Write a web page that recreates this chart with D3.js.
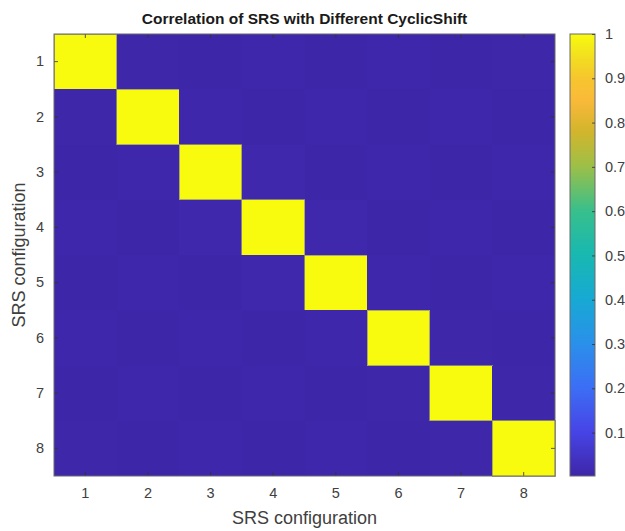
<!DOCTYPE html>
<html>
<head>
<meta charset="utf-8">
<script src="https://cdn.jsdelivr.net/npm/d3@7"></script>
<style>
  html, body { margin: 0; padding: 0; background: #fff; }
  svg { display: block; font-family: "Liberation Sans", Arial, Helvetica, sans-serif; }
</style>
</head>
<body>
<svg id="chart" width="625" height="531"></svg>
<script>
// SRS configuration indices on both axes
const configs = [1, 2, 3, 4, 5, 6, 7, 8];

// Normalised correlation between SRS sequences with different cyclic shifts
const corrRow1 = [1.000, 0.004, 0.003, 0.006, 0.002, 0.005, 0.003, 0.004];
const corrRow2 = [0.004, 1.000, 0.005, 0.003, 0.006, 0.002, 0.005, 0.003];
const corrRow3 = [0.003, 0.005, 1.000, 0.009, 0.003, 0.006, 0.002, 0.005];
const corrRow4 = [0.006, 0.003, 0.009, 1.000, 0.008, 0.003, 0.006, 0.002];
const corrRow5 = [0.002, 0.006, 0.003, 0.008, 1.000, 0.005, 0.003, 0.006];
const corrRow6 = [0.005, 0.002, 0.006, 0.003, 0.005, 1.000, 0.004, 0.003];
const corrRow7 = [0.003, 0.005, 0.002, 0.006, 0.003, 0.004, 1.000, 0.004];
const corrRow8 = [0.004, 0.003, 0.005, 0.002, 0.006, 0.003, 0.004, 1.000];
const corrMatrix = [corrRow1, corrRow2, corrRow3, corrRow4, corrRow5, corrRow6, corrRow7, corrRow8];

// Colour bar tick labels
const cbarTicks = [0.1, 0.2, 0.3, 0.4, 0.5, 0.6, 0.7, 0.8, 0.9, 1];

const titleText = "Correlation of SRS with Different CyclicShift";
const xLabelText = "SRS configuration";
const yLabelText = "SRS configuration";

// Parula-style colormap stops
const parulaStops = [
  [0.00, "#3e26a8"], [0.10, "#4744e6"], [0.20, "#3c6ef5"], [0.30, "#2a90ea"],
  [0.40, "#17a9d4"], [0.50, "#18b8b1"], [0.60, "#38bf8c"], [0.70, "#9cbf48"],
  [0.78, "#d3b52c"], [0.85, "#fbb93a"], [0.90, "#f6c62e"], [0.95, "#f2df1f"],
  [1.00, "#f9fb0e"]
];
const parula = d3.scaleLinear()
  .domain(parulaStops.map(d => d[0]))
  .range(parulaStops.map(d => d[1]))
  .interpolate(d3.interpolateRgb)
  .clamp(true);

const svg = d3.select("#chart");
const plot = { left: 54, top: 34, right: 555, bottom: 476 };
const cbar = { left: 570, right: 595, top: 34, bottom: 476 };
const textColor = "#404040";
const boxColor = "#6b6b6b";

const allVals = corrMatrix.flat();
const vMin = d3.min(allVals), vMax = d3.max(allVals);
const norm = d3.scaleLinear().domain([vMin, vMax]).range([0, 1]);

const x = d3.scaleBand().domain(configs).range([plot.left, plot.right]).padding(0);
const y = d3.scaleBand().domain(configs).range([plot.top, plot.bottom]).padding(0);

// Heatmap cells
const cells = [];
corrMatrix.forEach((row, i) => row.forEach((v, j) => cells.push({ r: configs[i], c: configs[j], v })));
svg.append("g")
  .selectAll("rect")
  .data(cells)
  .join("rect")
  .attr("x", d => x(d.c))
  .attr("y", d => y(d.r))
  .attr("width", x.bandwidth())
  .attr("height", y.bandwidth())
  .attr("fill", d => parula(norm(d.v)))
  .attr("stroke", d => d.v > 0.5 ? "#9a9870" : "none")
  .attr("stroke-width", 0.8)
  .attr("shape-rendering", "crispEdges");

// Axes with inward ticks on all four sides
const tickLen = 4;
const xAxisB = d3.axisBottom(x).tickSizeInner(-tickLen).tickSizeOuter(0).tickPadding(12);
const xAxisT = d3.axisTop(x).tickSizeInner(-tickLen).tickSizeOuter(0).tickFormat("");
const yAxisL = d3.axisLeft(y).tickSizeInner(-tickLen).tickSizeOuter(0).tickPadding(10);
const yAxisR = d3.axisRight(y).tickSizeInner(-tickLen).tickSizeOuter(0).tickFormat("");

function styleAxis(g) {
  g.select(".domain").remove();
  g.selectAll(".tick line").attr("stroke", "#333").attr("stroke-width", 0.8);
  g.selectAll(".tick text").attr("fill", textColor).attr("font-size", 14.5)
    .attr("font-family", "Liberation Sans, Arial, sans-serif");
}
svg.append("g").attr("transform", `translate(0,${plot.bottom})`).call(xAxisB).call(styleAxis);
svg.append("g").attr("transform", `translate(0,${plot.top})`).call(xAxisT).call(styleAxis);
svg.append("g").attr("transform", `translate(${plot.left},0)`).call(yAxisL).call(styleAxis);
svg.append("g").attr("transform", `translate(${plot.right},0)`).call(yAxisR).call(styleAxis);

// Plot box
svg.append("rect")
  .attr("x", plot.left).attr("y", plot.top)
  .attr("width", plot.right - plot.left).attr("height", plot.bottom - plot.top)
  .attr("fill", "none").attr("stroke", boxColor).attr("stroke-width", 1);

// Colour bar
const defs = svg.append("defs");
const grad = defs.append("linearGradient").attr("id", "parulaGrad")
  .attr("x1", 0).attr("y1", 1).attr("x2", 0).attr("y2", 0);
d3.range(0, 1.0001, 0.02).forEach(t => {
  grad.append("stop").attr("offset", t).attr("stop-color", parula(t));
});
const cScale = d3.scaleLinear().domain([vMin, vMax]).range([cbar.bottom, cbar.top]);
svg.append("rect")
  .attr("x", cbar.left).attr("y", cbar.top)
  .attr("width", cbar.right - cbar.left).attr("height", cbar.bottom - cbar.top)
  .attr("fill", "url(#parulaGrad)").attr("stroke", boxColor).attr("stroke-width", 1);

const cAxis = d3.axisRight(cScale).tickValues(cbarTicks).tickSizeInner(-3).tickSizeOuter(0)
  .tickPadding(10).tickFormat(d3.format("~g"));
svg.append("g").attr("transform", `translate(${cbar.right},0)`).call(cAxis).call(styleAxis);

// Title and axis labels
svg.append("text")
  .attr("x", (plot.left + plot.right) / 2).attr("y", 24)
  .attr("text-anchor", "middle").attr("font-size", 15.5).attr("font-weight", "bold")
  .attr("fill", "#1a1a1a").text(titleText);

svg.append("text")
  .attr("x", (plot.left + plot.right) / 2).attr("y", 524)
  .attr("text-anchor", "middle").attr("font-size", 18)
  .attr("fill", textColor).text(xLabelText);

svg.append("text")
  .attr("transform", `translate(25,${(plot.top + plot.bottom) / 2}) rotate(-90)`)
  .attr("text-anchor", "middle").attr("font-size", 18)
  .attr("fill", textColor).text(yLabelText);
</script>
</body>
</html>
